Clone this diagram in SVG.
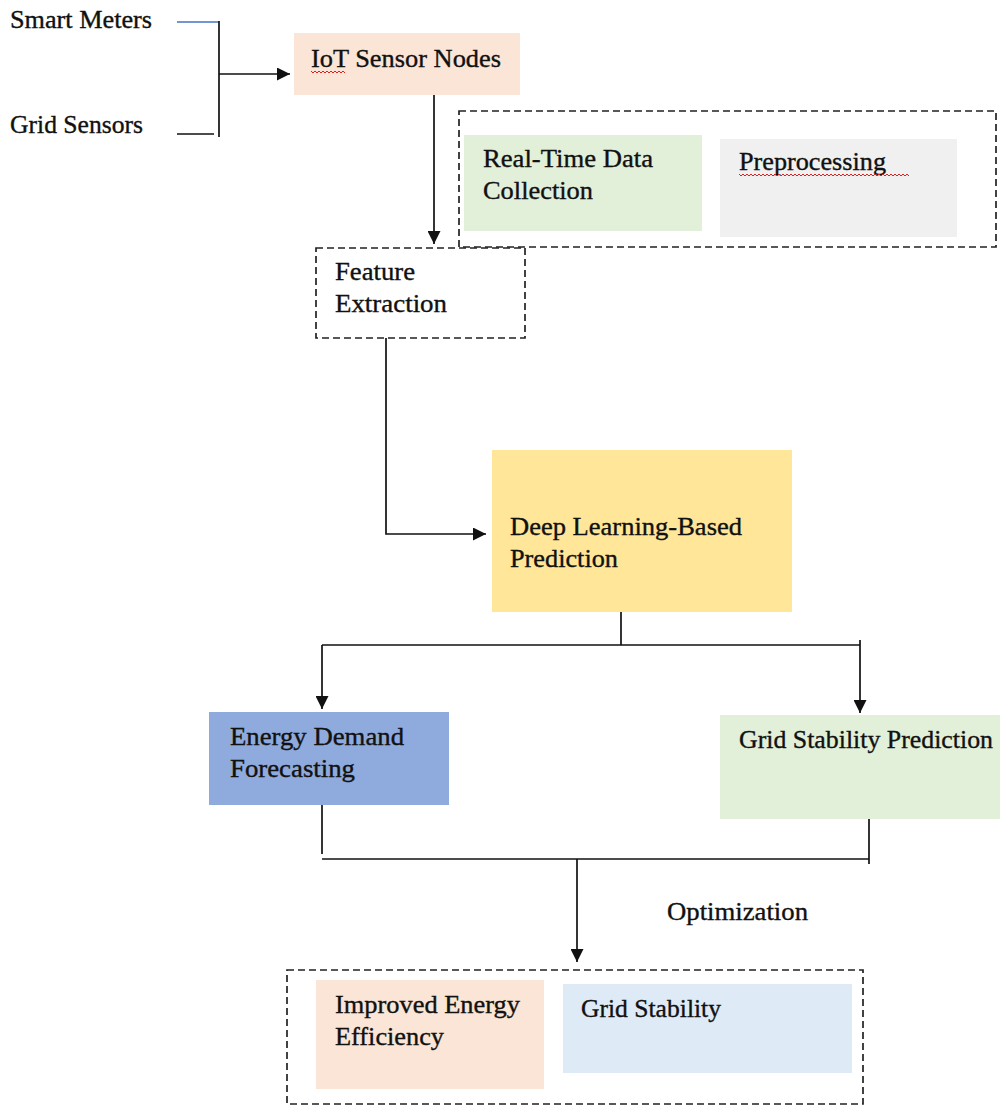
<svg xmlns="http://www.w3.org/2000/svg" width="1000" height="1106" viewBox="0 0 1000 1106">
  <style>
    .t { font-family: "Liberation Serif", "Times New Roman", serif; font-size: 25px; fill: #111; stroke: #111; stroke-width: 0.35; }
    .ln { stroke: #111; stroke-width: 1.7; fill: none; }
    .dash { fill: none; stroke: #222; stroke-width: 1.7; stroke-dasharray: 7 4; }
    .squig { fill: none; stroke: #e02020; stroke-width: 1; }
  </style>
  <defs>
    <marker id="arrow" markerUnits="userSpaceOnUse" markerWidth="14" markerHeight="13" refX="13" refY="6.5" orient="auto">
      <path d="M0,0 L13,6.5 L0,13 z" fill="#111"/>
    </marker>
  </defs>

  <rect width="1000" height="1106" fill="#ffffff"/>

  <!-- input sources -->
  <g id="smart-meters">
    <text class="t" x="10" y="28" textLength="142" lengthAdjust="spacingAndGlyphs">Smart Meters</text>
  </g>
  <g id="grid-sensors">
    <text class="t" x="10" y="133" textLength="133" lengthAdjust="spacingAndGlyphs">Grid Sensors</text>
  </g>

  <g id="iot-nodes">
    <rect x="294" y="33" width="226" height="62" fill="#fbe5d6"/>
    <text class="t" x="311" y="67" textLength="190" lengthAdjust="spacingAndGlyphs">IoT Sensor Nodes</text>
    <path class="squig" d="M311,71 l2,2 l2,-2 l2,2 l2,-2 l2,2 l2,-2 l2,2 l2,-2 l2,2 l2,-2 l2,2 l2,-2 l2,2 l2,-2 l2,2 l2,-2 l2,2"/>
  </g>

  <!-- collection + preprocessing stage -->
  <g id="acquisition-group">
    <rect class="dash" x="459" y="111" width="537" height="136"/>
  </g>
  <g id="realtime-collection">
    <rect x="464" y="135" width="238" height="96" fill="#e2efd9"/>
    <text class="t" x="483" y="167" textLength="170" lengthAdjust="spacingAndGlyphs">Real-Time Data</text>
    <text class="t" x="483" y="199" textLength="110" lengthAdjust="spacingAndGlyphs">Collection</text>
  </g>
  <g id="preprocessing">
    <rect x="720" y="139" width="237" height="98" fill="#f0f0f0"/>
    <text class="t" x="739" y="170" textLength="147" lengthAdjust="spacingAndGlyphs">Preprocessing</text>
    <path class="squig" d="M739,174 l2,2 l2,-2 l2,2 l2,-2 l2,2 l2,-2 l2,2 l2,-2 l2,2 l2,-2 l2,2 l2,-2 l2,2 l2,-2 l2,2 l2,-2 l2,2 l2,-2 l2,2 l2,-2 l2,2 l2,-2 l2,2 l2,-2 l2,2 l2,-2 l2,2 l2,-2 l2,2 l2,-2 l2,2 l2,-2 l2,2 l2,-2 l2,2 l2,-2 l2,2 l2,-2 l2,2 l2,-2 l2,2 l2,-2 l2,2 l2,-2 l2,2 l2,-2 l2,2 l2,-2 l2,2 l2,-2 l2,2 l2,-2 l2,2 l2,-2 l2,2 l2,-2 l2,2 l2,-2 l2,2 l2,-2 l2,2 l2,-2 l2,2 l2,-2 l2,2 l2,-2 l2,2 l2,-2 l2,2 l2,-2 l2,2 l2,-2 l2,2 l2,-2 l2,2 l2,-2 l2,2 l2,-2 l2,2 l2,-2 l2,2 l2,-2 l2,2 l2,-2 l2,2"/>
  </g>

  <g id="feature-extraction">
    <rect class="dash" x="316" y="248" width="209" height="90"/>
    <text class="t" x="335" y="280" textLength="80" lengthAdjust="spacingAndGlyphs">Feature</text>
    <text class="t" x="335" y="312" textLength="112" lengthAdjust="spacingAndGlyphs">Extraction</text>
  </g>

  <g id="deep-learning">
    <rect x="492" y="450" width="300" height="162" fill="#ffe699"/>
    <text class="t" x="510" y="535" textLength="232" lengthAdjust="spacingAndGlyphs">Deep Learning-Based</text>
    <text class="t" x="510" y="567" textLength="108" lengthAdjust="spacingAndGlyphs">Prediction</text>
  </g>

  <g id="demand-forecasting">
    <rect x="209" y="712" width="240" height="93" fill="#8faadc"/>
    <text class="t" x="230" y="745" textLength="174" lengthAdjust="spacingAndGlyphs">Energy Demand</text>
    <text class="t" x="230" y="777" textLength="125" lengthAdjust="spacingAndGlyphs">Forecasting</text>
  </g>

  <g id="stability-prediction">
    <rect x="720" y="715" width="280" height="104" fill="#e2efd9"/>
    <text class="t" x="739" y="748" textLength="254" lengthAdjust="spacingAndGlyphs">Grid Stability Prediction</text>
  </g>

  <g id="optimization-label">
    <text class="t" x="667" y="920" textLength="141" lengthAdjust="spacingAndGlyphs">Optimization</text>
  </g>

  <!-- outcomes -->
  <g id="outcome-group">
    <rect class="dash" x="287" y="970" width="576" height="134"/>
  </g>
  <g id="energy-efficiency">
    <rect x="316" y="980" width="228" height="109" fill="#fbe5d6"/>
    <text class="t" x="335" y="1013" textLength="185" lengthAdjust="spacingAndGlyphs">Improved Energy</text>
    <text class="t" x="335" y="1045" textLength="109" lengthAdjust="spacingAndGlyphs">Efficiency</text>
  </g>
  <g id="grid-stability">
    <rect x="563" y="984" width="289" height="89" fill="#deebf7"/>
    <text class="t" x="581" y="1017" textLength="140" lengthAdjust="spacingAndGlyphs">Grid Stability</text>
  </g>

  <!-- connectors -->
  <g id="connectors">
    <line x1="177" y1="22" x2="219" y2="22" stroke="#4472c4" stroke-width="1.6"/>
    <line class="ln" x1="219" y1="21" x2="219" y2="137"/>
    <line class="ln" x1="177" y1="134" x2="214" y2="134"/>
    <line class="ln" x1="219" y1="74" x2="290" y2="74" marker-end="url(#arrow)"/>
    <line class="ln" x1="434" y1="95" x2="434" y2="244" marker-end="url(#arrow)"/>
    <polyline class="ln" points="386,338 386,534 486,534" marker-end="url(#arrow)"/>
    <line class="ln" x1="621" y1="612" x2="621" y2="645"/>
    <line class="ln" x1="322" y1="645" x2="860" y2="645"/>
    <line class="ln" x1="322" y1="645" x2="322" y2="709" marker-end="url(#arrow)"/>
    <line class="ln" x1="860" y1="640" x2="860" y2="713" marker-end="url(#arrow)"/>
    <line class="ln" x1="322" y1="805" x2="322" y2="854"/>
    <line class="ln" x1="869" y1="819" x2="869" y2="864"/>
    <line class="ln" x1="322" y1="859" x2="869" y2="859"/>
    <line class="ln" x1="577" y1="859" x2="577" y2="962" marker-end="url(#arrow)"/>
  </g>
</svg>
